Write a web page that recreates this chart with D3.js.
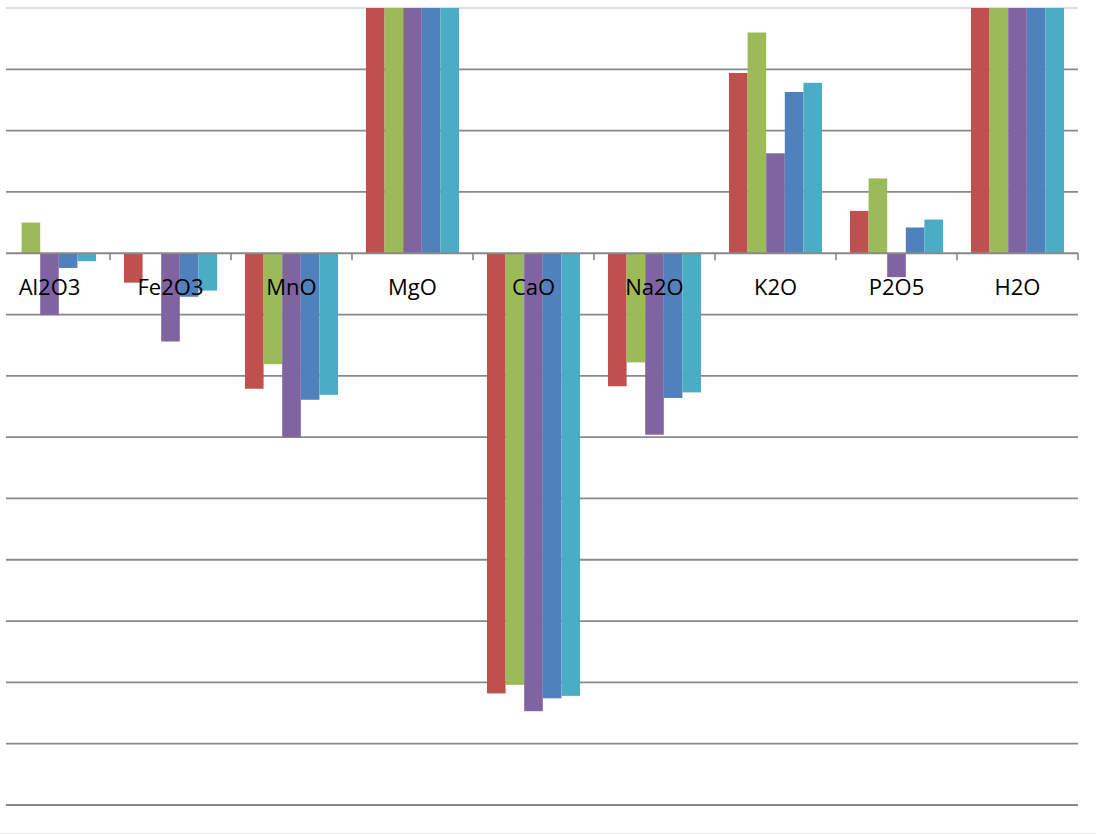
<!DOCTYPE html>
<html>
<head>
<meta charset="utf-8">
<script src="https://cdn.jsdelivr.net/npm/d3@7"></script>
<style>
  html, body { margin: 0; padding: 0; background: #ffffff; }
  svg { display: block; }
</style>
</head>
<body>
<svg id="chart" width="1096" height="834"></svg>
<script>
// ---- data ----
const categories = ["Al2O3", "Fe2O3", "MnO", "MgO", "CaO", "Na2O", "K2O", "P2O5", "H2O"];
const seriesNames = ["S1", "S2", "S3", "S4", "S5"];
const seriesColors = ["#C0504D", "#9BBB59", "#8064A2", "#4F81BD", "#4BACC6"];
const s1 = [0.00, -0.48, -2.21, 5.5, -7.18, -2.17, 2.94, 0.69, 5.5];
const s2 = [0.50, 0.00, -1.81, 5.5, -7.04, -1.78, 3.60, 1.22, 5.5];
const s3 = [-1.01, -1.44, -3.00, 5.5, -7.47, -2.96, 1.63, -0.39, 5.5];
const s4 = [-0.24, -0.71, -2.39, 5.5, -7.26, -2.36, 2.63, 0.42, 5.5];
const s5 = [-0.13, -0.61, -2.31, 5.5, -7.22, -2.27, 2.78, 0.55, 5.5];
const yTicks = [-9, -8, -7, -6, -5, -4, -3, -2, -1, 0, 1, 2, 3];
const seriesValues = [s1, s2, s3, s4, s5];

// ---- layout ----
const svg = d3.select("#chart");
const plotLeft = 6, plotRight = 1078, plotTop = 8, plotBottom = 833;

const x0 = d3.scaleBand().domain(categories).range([-11, 1078]).padding(0);
const bw = x0.bandwidth();
const barW = bw / 6.5;
const x1 = d3.scaleBand().domain(seriesNames)
  .range([barW * 0.75, bw - barW * 0.75]).padding(0);
const y = d3.scaleLinear().domain([-9, 4]).range([805, 8]);

svg.append("defs").append("clipPath").attr("id", "clip")
  .append("rect").attr("x", 0).attr("y", plotTop)
  .attr("width", 1096).attr("height", plotBottom - plotTop);

// light border lines
svg.append("line").attr("x1", plotLeft).attr("x2", plotRight)
  .attr("y1", y(4)).attr("y2", y(4))
  .attr("stroke", "#d4d4d4").attr("stroke-width", 1.3);
svg.append("line").attr("x1", 0).attr("x2", 1096)
  .attr("y1", plotBottom + 0.5).attr("y2", plotBottom + 0.5)
  .attr("stroke", "#ececec").attr("stroke-width", 1.3);

// gridlines
svg.append("g").selectAll("line").data(yTicks.filter(d => d !== 0)).join("line")
  .attr("x1", plotLeft).attr("x2", plotRight)
  .attr("y1", d => y(d)).attr("y2", d => y(d))
  .attr("stroke", "#898989").attr("stroke-width", 1.8);

// bars
const rows = [];
categories.forEach((c, i) => {
  seriesNames.forEach((s, j) => rows.push({ cat: c, ser: s, v: seriesValues[j][i], color: seriesColors[j] }));
});
svg.append("g").attr("clip-path", "url(#clip)").selectAll("rect").data(rows).join("rect")
  .attr("x", d => x0(d.cat) + x1(d.ser))
  .attr("width", x1.bandwidth())
  .attr("y", d => Math.min(y(0), y(d.v)))
  .attr("height", d => Math.abs(y(d.v) - y(0)))
  .attr("fill", d => d.color);

// zero axis
const gAxis = svg.append("g").attr("transform", `translate(0,${y(0)})`);
gAxis.append("line").attr("x1", plotLeft).attr("x2", plotRight).attr("y1", 0).attr("y2", 0)
  .attr("stroke", "#898989").attr("stroke-width", 1.8);
const boundaries = categories.map(c => x0(c) + bw).filter(v => v > plotLeft);
gAxis.selectAll("line.tick").data(boundaries).join("line").attr("class", "tick")
  .attr("x1", d => d).attr("x2", d => d).attr("y1", 0).attr("y2", 7)
  .attr("stroke", "#898989").attr("stroke-width", 1.6);

// category labels
svg.append("g").selectAll("text").data(categories).join("text")
  .attr("x", d => x0(d) + bw / 2)
  .attr("y", 294.5)
  .attr("text-anchor", "middle")
  .attr("font-family", "'Open Sans', sans-serif")
  .attr("font-size", 22)
  .attr("fill", "#000")
  .text(d => d);
</script>
</body>
</html>
